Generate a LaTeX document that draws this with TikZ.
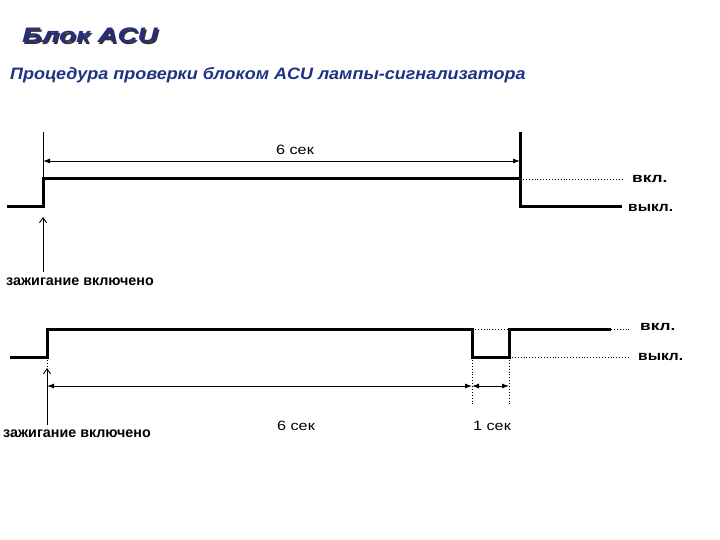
\documentclass[tikz,border=0pt]{standalone}
\usepackage{fontspec}
\setmainfont{Liberation Sans}
\usetikzlibrary{arrows.meta}
\definecolor{navy}{RGB}{38,44,128}
\definecolor{subnavy}{RGB}{30,50,130}
\newcommand{\wtext}[2]{\scalebox{#1}[1]{#2}}
\begin{document}
\begin{tikzpicture}[x=1pt,y=-1pt,
  sig/.style={line width=3pt, line join=miter},
  thinl/.style={line width=0.9pt},
  dotl/.style={line width=0.9pt, dotted},
  dimarrow/.style={line width=0.9pt, {Latex[length=7pt,width=5pt]}-{Latex[length=7pt,width=5pt]}},
  ignarrow/.style={line width=0.9pt, -{Straight Barb[length=5pt,width=7pt]}},
  timelbl/.style={font=\fontsize{13.5}{15}\selectfont, inner sep=0pt},
  statelbl/.style={font=\bfseries\fontsize{13.5}{15}\selectfont, inner sep=0pt, anchor=west},
  ignlbl/.style={font=\bfseries\fontsize{14.3}{16}\selectfont, inner sep=0pt, anchor=west}]
\useasboundingbox (0,0) rectangle (720,540);

% titles
\node[anchor=base west, inner sep=0pt, text=black!80] (titleshadow) at (23.5,44.5)
  {\wtext{1.32}{\fontsize{21}{24}\selectfont\bfseries\itshape Блок ACU}};
\node[anchor=base west, inner sep=0pt, text=navy] (title) at (22,43)
  {\wtext{1.32}{\fontsize{21}{24}\selectfont\bfseries\itshape Блок ACU}};
\node[anchor=base west, inner sep=0pt, text=subnavy] (subtitle) at (10,80)
  {\wtext{1.09}{\fontsize{16.5}{19}\selectfont\bfseries\itshape Процедура проверки блоком ACU лампы-сигнализатора}};

% ---------- top diagram ----------
\coordinate (a0) at (7,207);
\coordinate (a1) at (43,207);
\coordinate (a2) at (43,179);
\coordinate (a3) at (520,179);
\coordinate (a4) at (520,207);
\coordinate (a5) at (622,207);
\coordinate (a6) at (623,179);
\coordinate (aext) at (43,132);
\coordinate (bext) at (520,132);
\coordinate (ad1) at (43,161);
\coordinate (ad2) at (520,161);
\coordinate (ig1top) at (43,217);
\coordinate (ig1bot) at (43,272);

\draw[thinl] (aext) -- (a2);
\draw[sig] (bext) -- (a4);
\draw[sig] (a0) -- (a1) -- (a2) -- (a3) -- (a4) -- (a5);
\draw[dotl] (a3) -- (a6);
\draw[dimarrow] (ad1) -- (ad2);
\node[timelbl] (t6a) at (295,150) {\wtext{1.2}{6 сек}};
\draw[ignarrow] (ig1bot) -- (ig1top);
\node[statelbl] (von1) at (632,179) {\wtext{1.28}{вкл.}};
\node[statelbl] (voff1) at (628,208) {\wtext{1.15}{выкл.}};
\node[ignlbl] (ign1) at (6,282) {зажигание включено};

% ---------- bottom diagram ----------
\coordinate (b0) at (10,357);
\coordinate (b1) at (47,357);
\coordinate (b2) at (47,329);
\coordinate (b3) at (472,329);
\coordinate (b4) at (472,357);
\coordinate (b5) at (509,357);
\coordinate (b6) at (509,329);
\coordinate (b7) at (611,329);
\coordinate (b8) at (629,329);
\coordinate (b9) at (629,357);
\coordinate (c4) at (472,405);
\coordinate (c5) at (509,405);
\coordinate (bd1) at (47,386);
\coordinate (bd2) at (472,386);
\coordinate (bd3) at (509,386);
\coordinate (ig2top) at (47,368);
\coordinate (ig2bot) at (47,425);

\draw[sig] (b0) -- (b1) -- (b2) -- (b3) -- (b4) -- (b5) -- (b6) -- (b7);
\draw[dotl] (b7) -- (b8);
\draw[dotl] (b3) -- (b6);
\draw[dotl] (b5) -- (b9);
\draw[dotl] (b4) -- (c4);
\draw[dotl] (b5) -- (c5);
\draw[dotl] (b1) -- (ig2top);
\draw[ignarrow] (ig2bot) -- (ig2top);
\draw[dimarrow] (bd1) -- (bd2);
\draw[dimarrow] (bd2) -- (bd3);
\node[timelbl] (t6b) at (296,426) {\wtext{1.2}{6 сек}};
\node[timelbl] (t1b) at (492,426) {\wtext{1.2}{1 сек}};
\node[statelbl] (von2) at (640,327) {\wtext{1.28}{вкл.}};
\node[statelbl] (voff2) at (638,357) {\wtext{1.15}{выкл.}};
\node[ignlbl] (ign2) at (3,434) {зажигание включено};
\end{tikzpicture}
\end{document}
